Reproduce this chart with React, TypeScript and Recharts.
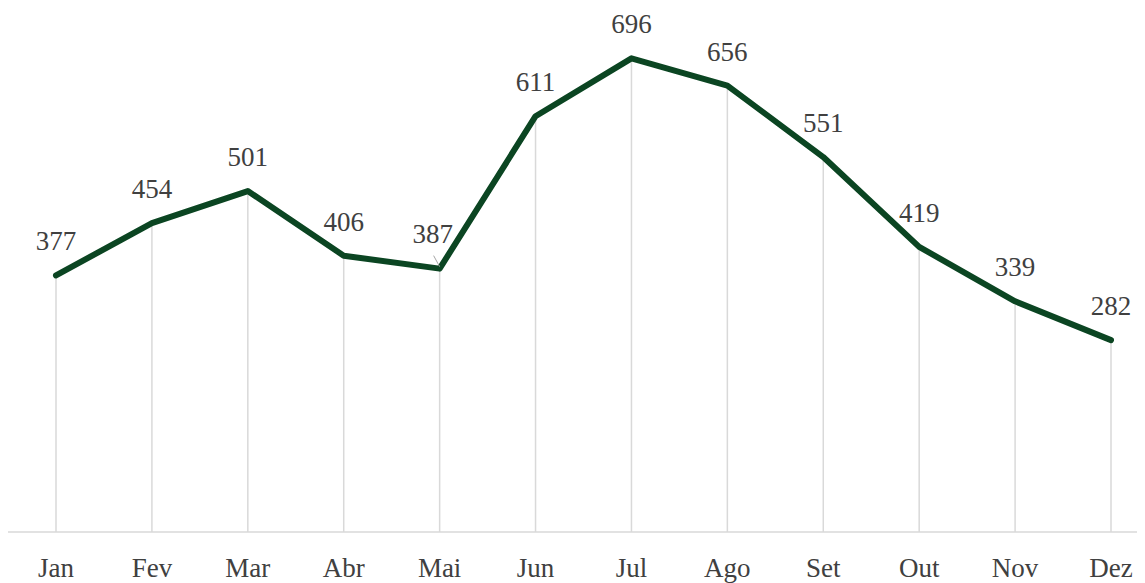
import React from 'react';
import { LineChart, Line, XAxis, YAxis, ReferenceLine, LabelList } from 'recharts';

const months = ['Jan', 'Fev', 'Mar', 'Abr', 'Mai', 'Jun', 'Jul', 'Ago', 'Set', 'Out', 'Nov', 'Dez'];
const values = [377, 454, 501, 406, 387, 611, 696, 656, 551, 419, 339, 282];

const FONT = '"Liberation Serif", "Times New Roman", serif';
const TEXT_COLOR = '#404040';

const ValueLabel = (props: any) => {
  const { x, y, value, index } = props;
  // the Mai label sits slightly left with a small leader line, as in the original
  if (months[index] === 'Mai') {
    return (
      <g>
        <line x1={x - 6} y1={y - 13} x2={x} y2={y - 2} stroke="#a6a6a6" strokeWidth={1} />
        <text x={x - 7} y={y - 26} textAnchor="middle" fontFamily={FONT} fontSize={27} fill={TEXT_COLOR}>
          {value}
        </text>
      </g>
    );
  }
  return (
    <text x={x} y={y - 25} textAnchor="middle" fontFamily={FONT} fontSize={27} fill={TEXT_COLOR}>
      {value}
    </text>
  );
};

const App = () => {
  const data = months.map((m, i) => ({ name: m, value: values[i] }));

  return (
    <div>
      <LineChart width={1129} height={575} data={data} margin={{ top: 0, right: 0, bottom: 0, left: 0 }}>
        <XAxis
          dataKey="name"
          height={51}
          padding={{ left: 48, right: 26 }}
          tickLine={false}
          tickSize={0}
          tickMargin={26}
          axisLine={{ stroke: '#d9d9d9', strokeWidth: 1.5 }}
          tick={{ fontFamily: FONT, fontSize: 27, fill: TEXT_COLOR }}
          interval={0}
        />
        <YAxis hide domain={[0, 770]} allowDataOverflow />
        {data.map((d) => (
          <ReferenceLine
            key={d.name}
            segment={[{ x: d.name, y: 0 }, { x: d.name, y: d.value }]}
            stroke="#d9d9d9"
            strokeWidth={1.5}
          />
        ))}
        <Line
          type="linear"
          dataKey="value"
          stroke="#0b4522"
          strokeWidth={6}
          strokeLinejoin="round"
          strokeLinecap="round"
          dot={false}
          activeDot={false}
          isAnimationActive={false}
        >
          <LabelList dataKey="value" content={<ValueLabel />} />
        </Line>
      </LineChart>
    </div>
  );
};

export default App;
